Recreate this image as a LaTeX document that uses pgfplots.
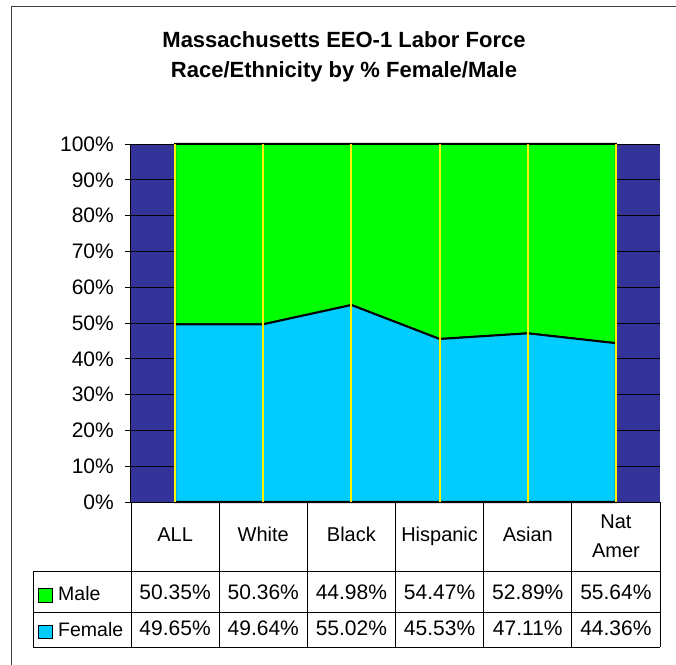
\documentclass[border=0pt]{standalone}
\usepackage{pgfplots}
\pgfplotsset{compat=1.18}
\usepackage{fontspec}
\setmainfont{Liberation Sans}
\definecolor{bgblue}{HTML}{333399}
\definecolor{malec}{HTML}{00FF00}
\definecolor{femalec}{HTML}{00CCFF}
\newcommand{\tf}{\fontsize{18.5bp}{22bp}\selectfont}
\newcommand{\nf}{\fontsize{21bp}{24bp}\selectfont}
\newcommand{\wf}{\fontsize{20bp}{24bp}\selectfont}
\begin{document}
\begin{tikzpicture}
\useasboundingbox (-131bp,-163bp) rectangle (545bp,502bp);
\draw[draw=black!75, line width=1bp] (-119bp,-200bp) -- (-119bp,495bp) -- (600bp,495bp);
\begin{axis}[at={(0,0)}, anchor=south west, scale only axis,
  width=529bp, height=358bp,
  xmin=-0.5, xmax=5.5, ymin=0, ymax=100,
  axis lines*=left, axis line style={black, line width=1bp},
  xtick=\empty, ytick={0,10,20,30,40,50,60,70,80,90,100},
  yticklabels={0\%,10\%,20\%,30\%,40\%,50\%,60\%,70\%,80\%,90\%,100\%},
  tick align=outside, major tick length=6bp, tick style={black, line width=0.8bp},
  ymajorgrids, grid style={black, line width=0.8bp},
  axis background/.style={fill=bgblue},
  yticklabel style={font=\nf, inner sep=0pt, xshift=-11bp},
  stack plots=y, clip=false]
\addplot[fill=femalec, draw=black, line width=2bp, mark=none]
  coordinates {(0,49.65) (1,49.64) (2,55.02) (3,45.53) (4,47.11) (5,44.36)} \closedcycle;
\addplot[fill=malec, draw=black, line width=2bp, mark=none]
  coordinates {(0,50.35) (1,50.36) (2,44.98) (3,54.47) (4,52.89) (5,55.64)} \closedcycle;
\node[font=\tf] at (axis cs:2.49,75.7) {Male};
\node[font=\tf] at (axis cs:2.49,25.4) {Female};
\end{axis}
\begin{axis}[at={(0,0)}, anchor=south west, scale only axis,
  width=529bp, height=358bp, hide axis,
  xmin=-0.5, xmax=5.5, ymin=0, ymax=100]
\addplot[ycomb, draw=yellow, line width=2bp, mark=none]
  coordinates {(0,100) (1,100) (2,100) (3,100) (4,100) (5,100)};
\end{axis}
% title
\node[font=\fontsize{22bp}{26bp}\selectfont\bfseries, anchor=base] at (213bp,454bp) {Massachusetts EEO-1 Labor Force};
\node[font=\fontsize{22bp}{26bp}\selectfont\bfseries, anchor=base] at (213bp,424bp) {Race/Ethnicity by \% Female/Male};
% data table grid
\foreach \x in {0,88.17,176.33,264.5,352.67,440.83,529} {\draw[black, line width=0.8bp] (\x bp,0bp) -- (\x bp,-145bp);}
\draw[black, line width=0.8bp] (-98bp,-69bp) -- (-98bp,-145bp);
\foreach \y in {-69,-110,-145} {\draw[black, line width=0.8bp] (-98bp,\y bp) -- (529bp,\y bp);}
% header
\begin{scope}[every node/.style={font=\wf, anchor=base, inner sep=0pt}]
\node at (44.1bp,-39bp) {ALL};
\node at (132.3bp,-39bp) {White};
\node at (220.4bp,-39bp) {Black};
\node at (308.6bp,-39bp) {Hispanic};
\node at (396.8bp,-39bp) {Asian};
\node at (484.9bp,-26bp) {Nat};
\node at (484.9bp,-55bp) {Amer};
\end{scope}
\begin{scope}[every node/.style={font=\nf, anchor=base, inner sep=0pt}]
% male row
\node at (44.1bp,-97bp) {50.35\%};
\node at (132.3bp,-97bp) {50.36\%};
\node at (220.4bp,-97bp) {44.98\%};
\node at (308.6bp,-97bp) {54.47\%};
\node at (396.8bp,-97bp) {52.89\%};
\node at (484.9bp,-97bp) {55.64\%};
% female row
\node at (44.1bp,-133bp) {49.65\%};
\node at (132.3bp,-133bp) {49.64\%};
\node at (220.4bp,-133bp) {55.02\%};
\node at (308.6bp,-133bp) {45.53\%};
\node at (396.8bp,-133bp) {47.11\%};
\node at (484.9bp,-133bp) {44.36\%};
\end{scope}
\begin{scope}[every node/.style={font=\fontsize{19.5bp}{23bp}\selectfont, anchor=base west, inner sep=0pt}]
\node at (-73bp,-98bp) {Male};
\node at (-73bp,-134bp) {Female};
\end{scope}
\draw[fill=malec, draw=black, line width=0.8bp] (-93bp,-86bp) rectangle (-79bp,-100bp);
\draw[fill=femalec, draw=black, line width=0.8bp] (-93bp,-123bp) rectangle (-79bp,-136bp);
\end{tikzpicture}
\end{document}
